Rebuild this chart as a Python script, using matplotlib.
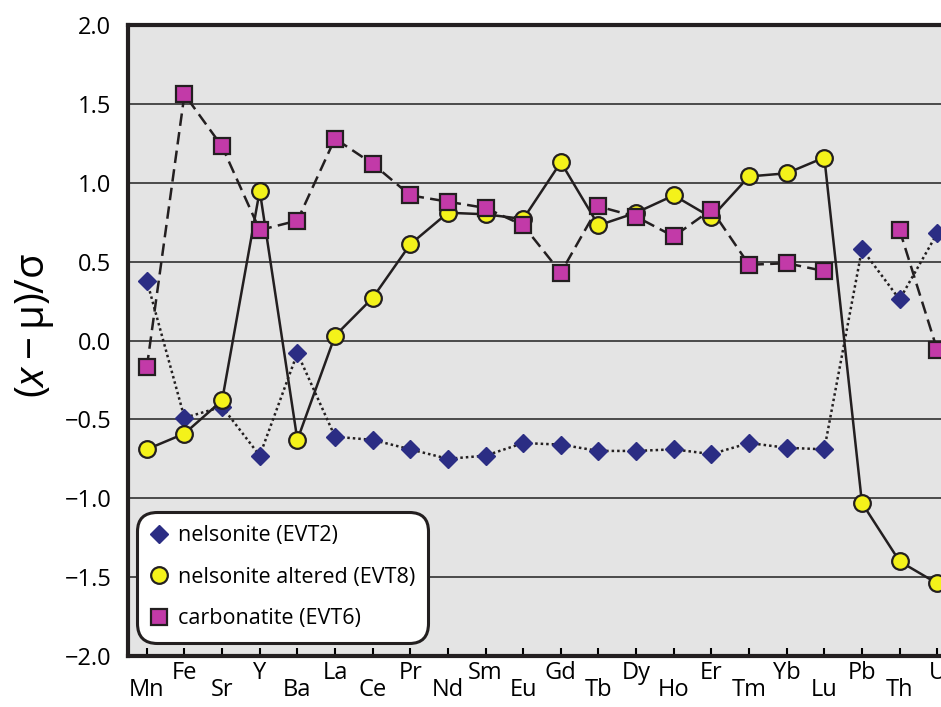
import matplotlib.pyplot as plt
import numpy as np
from matplotlib.lines import Line2D

plt.rcParams['font.family'] = ['Open Sans', 'DejaVu Sans']
plt.rcParams['mathtext.fontset'] = 'custom'
plt.rcParams['mathtext.rm'] = 'Open Sans'
plt.rcParams['mathtext.it'] = 'Open Sans:italic'

elements = ['Mn', 'Fe', 'Sr', 'Y', 'Ba', 'La', 'Ce', 'Pr', 'Nd', 'Sm', 'Eu',
            'Gd', 'Tb', 'Dy', 'Ho', 'Er', 'Tm', 'Yb', 'Lu', 'Pb', 'Th', 'U']

nelsonite = [0.38, -0.49, -0.42, -0.73, -0.08, -0.61, -0.63, -0.69, -0.75, -0.73, -0.65,
             -0.66, -0.70, -0.70, -0.69, -0.72, -0.65, -0.68, -0.69, 0.58, 0.26, 0.68]
altered = [-0.69, -0.59, -0.38, 0.95, -0.63, 0.03, 0.27, 0.61, 0.81, 0.80, 0.77,
           1.13, 0.73, 0.81, 0.92, 0.78, 1.04, 1.06, 1.16, -1.03, -1.40, -1.54]
carbonatite = [-0.17, 1.56, 1.23, 0.70, 0.76, 1.28, 1.12, 0.92, 0.88, 0.84, 0.73,
               0.43, 0.85, 0.785, 0.66, 0.83, 0.48, 0.49, 0.44, np.nan, 0.70, -0.06]

labels = ['nelsonite (EVT2)', 'nelsonite altered (EVT8)', 'carbonatite (EVT6)']

navy = '#2b2d84'
yellow = '#f4f21a'
magenta = '#c23aa8'
ink = '#231f20'

fig = plt.figure(figsize=(9.41, 7.07), dpi=100)
ax = fig.add_axes([128 / 941, 51 / 707, 813 / 941, 631 / 707])
ax.set_facecolor('#e4e4e4')

x = np.arange(len(elements))
ax.plot(x, nelsonite, ls=(0, (1, 1.2)), color=ink, lw=1.8,
        marker='D', ms=9, mfc=navy, mec=navy, zorder=3)
ax.plot(x, altered, ls='-', color=ink, lw=1.8,
        marker='o', ms=12, mfc=yellow, mec=ink, mew=1.6, zorder=4)
ax.plot(x, carbonatite, ls=(0, (5, 2.5)), color=ink, lw=1.8,
        marker='s', ms=11.5, mfc=magenta, mec=ink, mew=1.6, zorder=5)

ax.set_xlim(-0.5, 21.1)
ax.set_ylim(-2.0, 2.0)
yticks = np.arange(-2.0, 2.01, 0.5)
ax.set_yticks(yticks)
ax.set_yticklabels([f'{v:.1f}'.replace('-', '\u2212') for v in yticks])
ax.yaxis.grid(True, color='#4a4a4a', lw=1.4)
ax.set_axisbelow(True)
ax.tick_params(axis='y', length=0, pad=12, labelsize=17)

# element names alternate between two rows
ax.set_xticks(x[::2])
ax.set_xticklabels(elements[::2])
ax.set_xticks(x[1::2], minor=True)
ax.set_xticklabels(elements[1::2], minor=True)
ax.tick_params(axis='x', which='major', direction='in', length=6, width=1.5,
               pad=15.5, labelsize=17)
ax.tick_params(axis='x', which='minor', direction='in', length=6, width=1.5,
               pad=3.5, labelsize=17)

for side in ['left', 'bottom', 'top']:
    ax.spines[side].set_linewidth(3)
    ax.spines[side].set_color(ink)
ax.spines['right'].set_visible(False)

fig.text(35 / 941, 1 - 325 / 707, r'$(x - \mathrm{\mu})/\mathrm{\sigma}$',
         rotation=90, ha='center', va='center', fontsize=29)

handles = [
    Line2D([], [], ls='none', marker='D', ms=9, mfc=navy, mec=navy),
    Line2D([], [], ls='none', marker='o', ms=12, mfc=yellow, mec=ink, mew=1.6),
    Line2D([], [], ls='none', marker='s', ms=11.5, mfc=magenta, mec=ink, mew=1.6),
]
leg = ax.legend(handles, labels, loc='lower left', bbox_to_anchor=(0.012, 0.022),
                borderaxespad=0, fontsize=15.5, labelspacing=0.95, handlelength=0.8,
                handletextpad=0.45, borderpad=0.6, fancybox=True, framealpha=1)
frame = leg.get_frame()
frame.set_edgecolor(ink)
frame.set_linewidth(2.2)
frame.set_boxstyle('round,pad=0.02,rounding_size=0.9')
leg.set_zorder(10)

fig.savefig('out.png', dpi=100)
